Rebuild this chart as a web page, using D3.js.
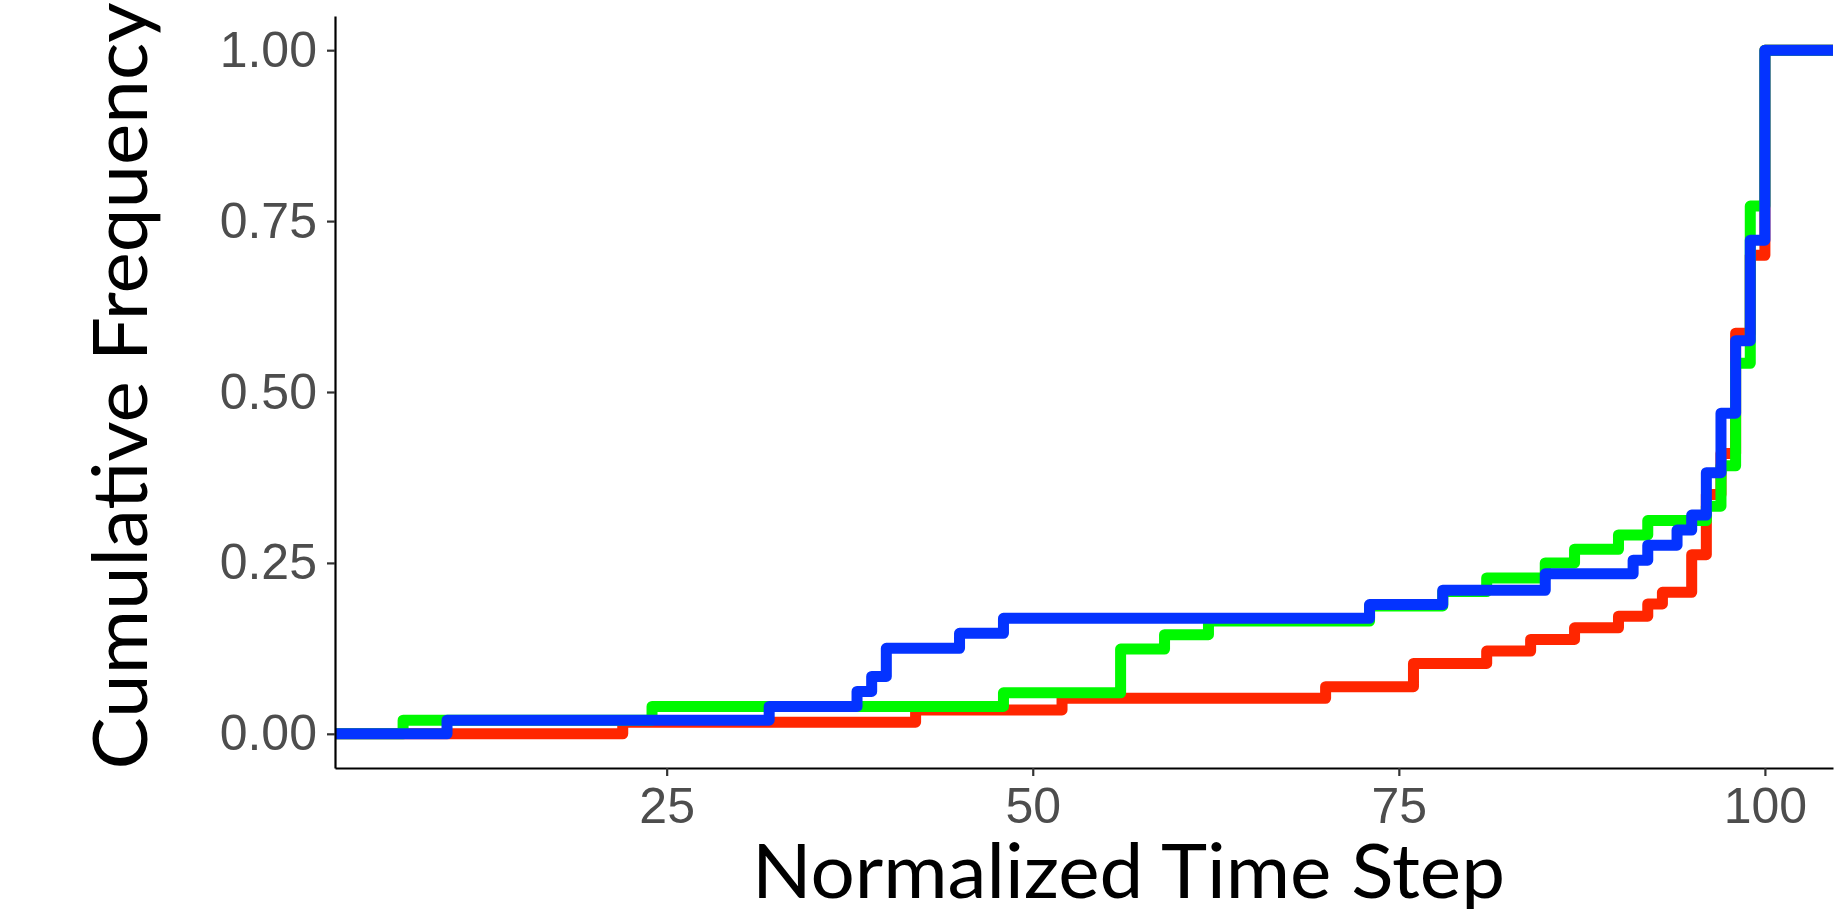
<!DOCTYPE html>
<html>
<head>
<meta charset="utf-8">
<script src="https://cdn.jsdelivr.net/npm/d3@7"></script>
<style>
  body { margin: 0; background: #fff; }
  .chart svg { display: block; }
</style>
</head>
<body>
<div class="chart"></div>
<script>
const margin = ({top: 16, right: 9, bottom: 141, left: 335})
const width = 1842 - margin.left - margin.right;
const height = 909 - margin.top - margin.bottom;

// step positions (normalized time step) and cumulative frequency after each step
const redSteps   = [22, 42, 52, 70, 76, 81, 84, 87, 90, 92, 93, 95, 96, 97, 98, 99, 100];
const redCum     = [0.017, 0.035, 0.052, 0.069, 0.103, 0.121, 0.138, 0.155, 0.172, 0.19, 0.207, 0.262, 0.35, 0.41, 0.586, 0.70, 1.0];

const greenSteps = [7, 24, 48, 56, 59, 62, 73, 78, 81, 85, 87, 90, 92, 96, 97, 98, 99, 100];
const greenCum   = [0.02, 0.04, 0.06, 0.124, 0.145, 0.165, 0.187, 0.208, 0.228, 0.25, 0.27, 0.291, 0.312, 0.333, 0.392, 0.542, 0.772, 1.0];

const blueSteps  = [10, 32, 38, 39, 40, 45, 48, 73, 78, 85, 91, 92, 94, 95, 96, 97, 98, 99, 100];
const blueCum    = [0.02, 0.04, 0.062, 0.084, 0.125, 0.147, 0.169, 0.189, 0.21, 0.234, 0.254, 0.276, 0.298, 0.32, 0.382, 0.469, 0.575, 0.722, 1.0];

const seriesColors = ['#FF2600', '#00F900', '#0433FF'];

const xTicks = [25, 50, 75, 100];
const yTicks = [0, 0.25, 0.5, 0.75, 1];

const xDomain = [2.35, 104.65];
const yDomain = [-0.05, 1.05];

const svg = d3
    .select('.chart')
    .append('svg')
    .attr("width", width + margin.left + margin.right)
    .attr("height", height + margin.top + margin.bottom)
    .append("g")
    .attr("transform", "translate(" + margin.left + "," + margin.top + ")")

// SCALES
let xScale = d3.scaleLinear()
    .domain(xDomain)
    .range([0, width])

let yScale = d3.scaleLinear()
    .domain(yDomain)
    .range([height, 0])

// step lines, padded out to the panel edges like stat_ecdf
const series = [
    [redSteps, redCum],
    [greenSteps, greenCum],
    [blueSteps, blueCum]
].map(([s, c]) => {
    const pts = [[xDomain[0], 0]];
    s.forEach((v, i) => pts.push([v, c[i]]));
    pts.push([xDomain[1], c[c.length - 1]]);
    return pts;
});

const line = d3.line()
    .x(d => xScale(d[0]))
    .y(d => yScale(d[1]))
    .curve(d3.curveStepAfter)

svg.selectAll('.ecdf')
    .data(series)
    .enter()
    .append('path')
    .attr('class', 'ecdf')
    .attr('d', line)
    .attr('fill', 'none')
    .attr('stroke', (d, i) => seriesColors[i])
    .attr('stroke-width', 11)
    .attr('stroke-linejoin', 'round')
    .attr('stroke-linecap', 'butt')

// AXES
let xAxis = d3.axisBottom()
    .scale(xScale)
    .tickValues(xTicks)
    .tickSize(8)
    .tickSizeOuter(0)
    .tickPadding(11)

const yAxis = d3.axisLeft()
    .scale(yScale)
    .tickValues(yTicks)
    .tickFormat(d3.format('.2f'))
    .tickSize(8)
    .tickSizeOuter(0)
    .tickPadding(10)

const gx = svg.append('g')
    .attr('transform', 'translate(0,' + height + ')')
    .call(xAxis)

const gy = svg.append('g')
    .call(yAxis)

;[gx, gy].forEach(g => {
    g.select('.domain').attr('stroke', '#000').attr('stroke-width', 2.2)
    g.selectAll('.tick line').attr('stroke', '#333').attr('stroke-width', 2.2)
    g.selectAll('.tick text')
        .attr('fill', '#4D4D4D')
        .style('font-family', '"Liberation Sans", Arial, sans-serif')
        .style('font-size', '50px')
})

// titles
const root = d3.select('.chart svg')

root.append('text')
    .attr('x', 1128.5)
    .attr('y', 898)
    .attr('text-anchor', 'middle')
    .attr('textLength', 753)
    .attr('lengthAdjust', 'spacingAndGlyphs')
    .style('font-family', 'Lato, "Open Sans", sans-serif')
    .style('font-size', '76px')
    .attr('fill', '#000')
    .text('Normalized Time Step')

root.append('text')
    .attr('transform', 'translate(147,386) rotate(-90)')
    .attr('text-anchor', 'middle')
    .attr('textLength', 767)
    .attr('lengthAdjust', 'spacingAndGlyphs')
    .style('font-family', 'Lato, "Open Sans", sans-serif')
    .style('font-size', '76px')
    .attr('fill', '#000')
    .text('Cumulative Frequency')
</script>
</body>
</html>
